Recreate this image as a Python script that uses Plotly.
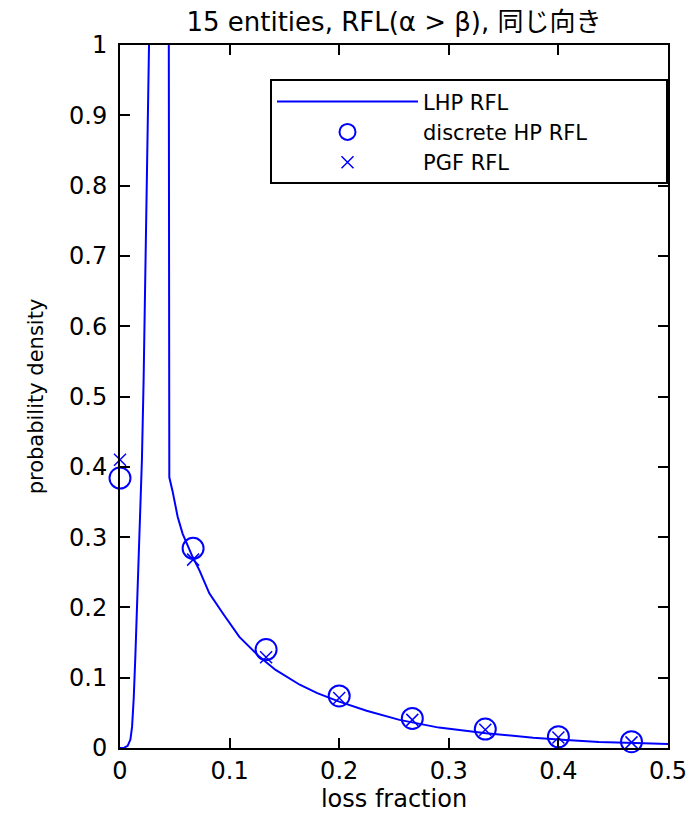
import plotly.graph_objects as go

# LHP RFL density curve (rising branch, then decaying branch; density is off-chart in between)
lhp_rise_x = [0.0, 0.004, 0.007, 0.0095, 0.0110, 0.0125, 0.0140, 0.0160, 0.0180,
              0.0200, 0.0215, 0.0230, 0.0245, 0.0260, 0.0270]
lhp_rise_y = [0.0, 0.0005, 0.003, 0.012, 0.030, 0.070, 0.13, 0.22, 0.32,
              0.41, 0.52, 0.66, 0.79, 0.92, 1.05]
lhp_fall_x = [0.0445, 0.0447, 0.0450, 0.0480, 0.0526, 0.0571, 0.0662, 0.0724, 0.0815,
              0.0936, 0.1089, 0.127, 0.142, 0.164, 0.180, 0.200, 0.225, 0.255, 0.291,
              0.334, 0.377, 0.407, 0.437, 0.470, 0.500]
lhp_fall_y = [1.05, 0.60, 0.385, 0.365, 0.329, 0.305, 0.272, 0.253, 0.220,
              0.192, 0.158, 0.130, 0.111, 0.090, 0.078, 0.066, 0.053, 0.040, 0.029,
              0.021, 0.0145, 0.0115, 0.0085, 0.007, 0.0058]

# discrete points at k/15
loss_x = [0.0, 0.0667, 0.1333, 0.2, 0.2667, 0.3333, 0.4, 0.4667]
hp_y = [0.384, 0.284, 0.140, 0.074, 0.042, 0.027, 0.016, 0.009]
pgf_y = [0.410, 0.268, 0.129, 0.071, 0.040, 0.026, 0.015, 0.008]

x_ticks = [0, 0.1, 0.2, 0.3, 0.4, 0.5]
x_labels = ["0", "0.1", "0.2", "0.3", "0.4", "0.5"]
y_ticks = [0, 0.1, 0.2, 0.3, 0.4, 0.5, 0.6, 0.7, 0.8, 0.9, 1.0]
y_labels = ["0", "0.1", "0.2", "0.3", "0.4", "0.5", "0.6", "0.7", "0.8", "0.9", "1"]

BLUE = "#0000FF"
FONT = "DejaVu Sans"

fig = go.Figure()
fig.add_trace(go.Scatter(
    x=lhp_rise_x + [None] + lhp_fall_x,
    y=lhp_rise_y + [None] + lhp_fall_y,
    mode="lines", name="LHP RFL",
    line=dict(color=BLUE, width=2), connectgaps=False,
))
fig.add_trace(go.Scatter(
    x=loss_x, y=hp_y, mode="markers", name="discrete HP RFL",
    marker=dict(symbol="circle-open", size=21, color=BLUE, line=dict(color=BLUE, width=2)),
    cliponaxis=False,
))
fig.add_trace(go.Scatter(
    x=loss_x, y=pgf_y, mode="markers", name="PGF RFL",
    marker=dict(symbol="x-thin-open", size=12, color=BLUE, line=dict(color=BLUE, width=1.5)),
    cliponaxis=False,
))

axis_common = dict(
    showline=True, linecolor="black", linewidth=2, mirror="allticks",
    ticks="inside", ticklen=10, tickwidth=2, tickcolor="black",
    showgrid=False, zeroline=False, automargin=False,
    tickfont=dict(family=FONT, size=24, color="black"),
)

fig.update_xaxes(
    range=[0, 0.5], tickvals=x_ticks, ticktext=x_labels,
    title=dict(text="loss fraction", font=dict(family=FONT, size=24, color="black"), standoff=3),
    **axis_common,
)
fig.update_yaxes(
    range=[0, 1], tickvals=y_ticks, ticktext=y_labels,
    title=dict(text="probability density", font=dict(family=FONT, size=21, color="black"), standoff=20),
    ticklabelstandoff=6,
    **axis_common,
)

fig.update_layout(
    width=699, height=815,
    margin=dict(l=120, r=31, t=45, b=67, autoexpand=False),
    paper_bgcolor="white", plot_bgcolor="white",
    font=dict(family=FONT, color="black"),
    title=dict(text="15 entities, RFL(α > β), 同じ向き", xref="paper", x=0.5, xanchor="center",
               y=1 - 22 / 815, yanchor="middle",
               font=dict(family=FONT + ", Noto Sans CJK JP", size=26, color="black")),
    legend=dict(
        orientation="h",
        x=1, xanchor="right", y=0.951, yanchor="top",
        bordercolor="black", borderwidth=2, bgcolor="white",
        font=dict(family=FONT, size=21, color="black"),
        itemwidth=141, tracegroupgap=0,
        entrywidth=238, entrywidthmode="pixels",
    ),
    showlegend=True,
)

fig.write_html("out.html")
